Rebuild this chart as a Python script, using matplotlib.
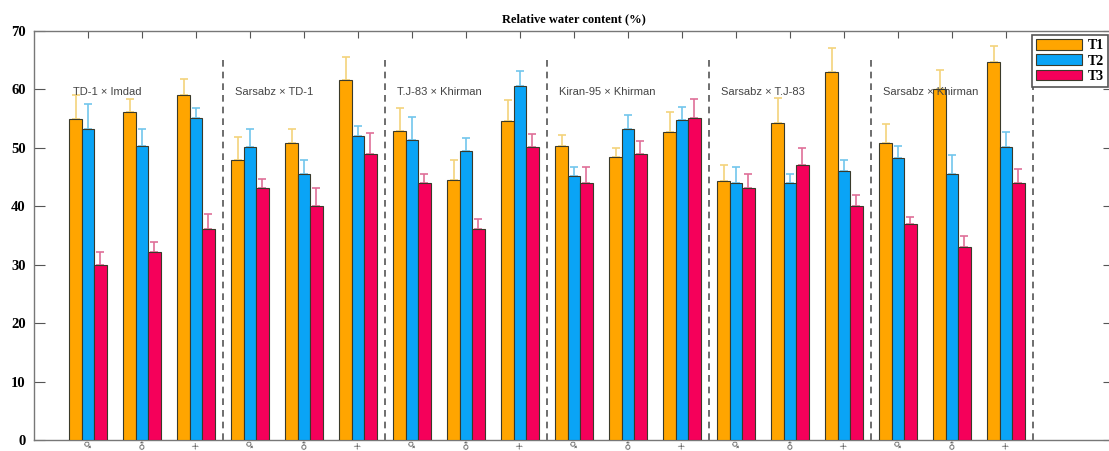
import numpy as np
import matplotlib
matplotlib.use("Agg")
from matplotlib import pyplot as plt

# cross combinations, three entries each (female parent, male parent, cross)
crosses = ["TD-1 \u00d7 Imdad", "Sarsabz \u00d7 TD-1", "T.J-83 \u00d7 Khirman",
           "Kiran-95 \u00d7 Khirman", "Sarsabz \u00d7 T.J-83", "Sarsabz \u00d7 Khirman"]
entry_labels = ["\u2640", "\u2642", "\u00d7"] * 6

t1 = [54.9, 56.1, 59.0, 48.0, 50.8, 61.6, 52.8, 44.5, 54.6,
      50.4, 48.4, 52.7, 44.3, 54.3, 63.0, 50.8, 60.1, 64.7]
t2 = [53.3, 50.4, 55.1, 50.1, 45.5, 52.1, 51.4, 49.5, 60.6,
      45.2, 53.3, 54.7, 44.0, 44.0, 46.1, 48.3, 45.5, 50.1]
t3 = [29.9, 32.1, 36.1, 43.1, 40.1, 49.0, 44.0, 36.1, 50.1,
      44.0, 49.0, 55.1, 43.1, 47.1, 40.0, 37.0, 33.1, 44.0]

t1_err = [4.1, 2.2, 2.8, 3.9, 2.5, 3.9, 4.1, 3.5, 3.6,
          1.8, 1.5, 3.4, 2.8, 4.3, 4.1, 3.3, 3.3, 2.8]
t2_err = [4.2, 2.8, 1.7, 3.2, 2.5, 1.7, 3.9, 2.2, 2.6,
          1.6, 2.4, 2.3, 2.8, 1.6, 1.9, 2.1, 3.2, 2.6]
t3_err = [2.2, 1.8, 2.5, 1.5, 3.1, 3.6, 1.6, 1.8, 2.3,
          2.8, 2.2, 3.3, 2.5, 2.8, 2.0, 1.2, 1.8, 2.3]

series = [("T1", t1, t1_err, "#FFA500", "#F3D37C"),
          ("T2", t2, t2_err, "#0AA4F6", "#72C6EC"),
          ("T3", t3, t3_err, "#F5005A", "#DF6F98")]

fig = plt.figure(figsize=(11.09, 4.51), dpi=100)
ax = fig.add_axes([34 / 1109, 11 / 451, 1080 / 1109, 409 / 451])

x = np.arange(1, len(t1) + 1)
width = 0.23
for i, (name, vals, err, color, ecolor) in enumerate(series):
    pos = x + (i - 1) * width
    ax.bar(pos, vals, width, color=color, edgecolor="#3a3a2a", linewidth=0.8,
           label=name, zorder=3)
    ax.errorbar(pos, vals, yerr=[np.zeros(len(err)), err], fmt="none",
                ecolor=ecolor, elinewidth=1.2, capsize=3, capthick=1.2, zorder=2)

# separators between crosses and cross names
for k, name in enumerate(crosses):
    first = 3 * k + 1
    ax.vlines(first + 2.5, 0, 65, colors="#555555", linestyles=(0, (4, 3)),
              linewidth=1.2, zorder=1)
    ax.text(first - 0.27, 59.5, name, ha="left", va="center", fontsize=8,
            color="#444444", family="Liberation Sans", zorder=4)

ax.set_xlim(0, 20)
ax.set_ylim(0, 70)
ax.set_yticks(range(0, 71, 10))
ax.set_xticks(x)
ax.set_xticklabels(entry_labels, rotation=45, fontsize=6.5, color="#555555",
                   family="DejaVu Sans")
for lab in ax.get_yticklabels():
    lab.set_family("Liberation Serif")
    lab.set_fontweight("bold")
    lab.set_fontsize(10.5)
ax.tick_params(axis="y", direction="in", length=8, right=True, colors="#555555",
               labelcolor="black", pad=6)
ax.tick_params(axis="x", direction="in", length=5, top=True, colors="#555555",
               pad=0)
for sp in ax.spines.values():
    sp.set_color("#777777")
    sp.set_linewidth(1.0)

ax.set_title("Relative water content (%)", fontsize=9, fontweight="bold",
             family="Liberation Serif", pad=6)

leg = ax.legend(loc="upper right", bbox_to_anchor=(1108 / 1109, 416 / 451),
                bbox_transform=fig.transFigure, fancybox=False, framealpha=1,
                edgecolor="#555555", handlelength=3.3, handleheight=0.8,
                handletextpad=0.4, borderpad=0.3, labelspacing=0.15,
                borderaxespad=0, prop={"family": "Liberation Serif",
                                       "weight": "bold", "size": 10})
leg.get_frame().set_linewidth(1.2)

fig.savefig("out.png", dpi=100, facecolor="white")
